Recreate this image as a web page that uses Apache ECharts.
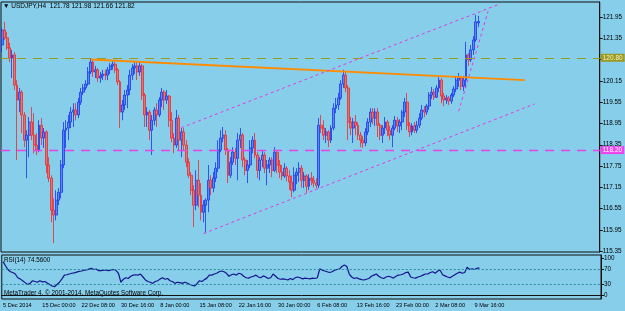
<!DOCTYPE html>
<html>
<head>
<meta charset="utf-8">
<script src="https://cdn.jsdelivr.net/npm/echarts@6/dist/echarts.min.js"></script>
<style>
html, body { margin: 0; padding: 0; background: #87ceeb; }
#main { width: 625px; height: 311px; }
</style>
</head>
<body>
<div id="main"></div>
<script>
var font = "'Liberation Sans',Arial,sans-serif";

// one label every 16 bars (each bar here = 2 x H4)
var xLabels = ['5 Dec 2014', '15 Dec 00:00', '22 Dec 08:00', '30 Dec 16:00', '8 Jan 00:00', '15 Jan 08:00',
    '22 Jan 16:00', '30 Jan 00:00', '6 Feb 08:00', '13 Feb 16:00', '23 Feb 00:00', '2 Mar 08:00', '9 Mar 16:00'];
var slotCount = 244;

var priceTicks = [115.35, 115.95, 116.55, 117.15, 117.75, 118.35, 118.95, 119.55, 120.15, 120.75, 121.35, 121.95];
var rsiTicks = [0, 30, 70, 100];
var rsiLevels = [30, 70];
var oliveLevel = 120.80;
var magentaLevel = 118.20;

// trend lines: [bar index, price]
var orangeLine = [[36, 120.75], [213, 120.17]];
var channelTop = [[73, 118.83], [203, 122.32]];
var channelBottom = [[82, 115.85], [217, 119.50]];
var steepLine = [[186, 119.29], [198, 122.11]];

// [open, close, low, high]
var ohlc = [
    [121.16,121.58,120.96,121.64],[121.58,121.36,121.30,121.81],[121.36,121.08,121.02,121.53],[121.08,120.79,120.68,121.22],
    [120.79,120.88,120.23,121.02],[120.88,120.03,119.89,120.96],[120.03,119.61,117.92,120.17],[119.61,119.83,119.27,119.95],
    [119.83,119.19,118.68,119.89],[119.19,118.48,118.28,119.27],[118.48,118.62,117.41,118.76],[118.62,118.99,118.00,119.13],
    [118.99,118.62,118.48,119.41],[118.62,118.34,118.11,119.24],[118.34,118.20,118.06,118.68],[118.20,118.90,118.14,119.04],

    [118.90,118.54,118.34,119.10],[118.54,118.71,118.26,118.82],[118.71,117.78,117.55,118.76],[117.78,117.41,117.30,118.00],
    [117.41,116.51,116.17,117.49],[116.51,116.37,115.58,116.84],[116.37,116.79,116.22,117.07],[116.79,117.01,116.65,117.13],
    [117.01,117.78,116.84,117.92],[117.78,118.76,117.69,118.99],[118.76,118.82,118.26,119.04],[118.82,118.99,118.48,119.19],
    [118.99,119.27,118.82,119.41],[119.27,119.33,118.85,119.52],[119.33,119.19,119.04,119.52],[119.19,119.55,119.10,119.67],

    [119.55,119.83,119.47,119.95],[119.83,119.95,119.75,120.06],[119.95,120.06,119.89,120.17],[120.06,120.40,120.00,120.54],
    [120.40,120.68,120.34,120.79],[120.68,120.40,120.26,120.74],[120.40,120.46,120.23,120.57],[120.46,120.23,120.12,120.51],
    [120.23,120.29,120.09,120.40],[120.29,120.34,120.17,120.46],[120.34,120.31,120.17,120.46],[120.31,120.46,120.17,120.54],
    [120.46,120.57,120.34,120.65],[120.57,120.62,120.46,120.71],[120.62,120.46,120.37,120.68],[120.46,120.12,120.03,120.51],

    [120.12,119.27,118.82,120.17],[119.27,119.47,119.04,119.61],[119.47,119.75,119.33,119.89],[119.75,119.89,119.38,120.03],
    [119.89,120.31,119.75,120.46],[120.31,120.51,120.17,120.62],[120.51,120.57,120.34,120.71],[120.57,120.40,120.17,120.68],
    [120.40,120.57,120.29,120.68],[120.57,119.75,119.61,120.62],[119.75,119.19,118.85,119.81],[119.19,119.27,118.85,119.41],
    [119.27,118.76,118.48,119.33],[118.76,119.04,118.06,119.19],[119.04,119.33,118.90,119.41],[119.33,119.19,118.85,119.52],

    [119.19,119.61,119.13,119.69],[119.61,119.83,119.41,119.95],[119.83,119.61,119.33,119.89],[119.61,119.72,119.50,119.89],
    [119.72,119.04,118.85,119.75],[119.04,118.54,118.42,119.27],[118.54,118.34,118.11,118.68],[118.34,119.10,118.26,119.33],
    [119.10,118.48,118.20,119.19],[118.48,118.71,118.00,118.82],[118.71,118.34,118.20,118.82],[118.34,117.86,117.72,118.48],
    [117.86,117.49,117.41,117.97],[117.49,117.07,116.93,117.58],[117.07,116.65,116.03,117.21],[116.65,117.35,116.51,117.63],

    [117.35,116.93,116.59,117.92],[116.93,116.45,116.22,117.27],[116.45,116.65,116.17,116.79],[116.65,116.79,115.86,116.84],
    [116.79,117.35,116.45,117.78],[117.35,117.13,116.93,117.49],[117.13,117.41,117.01,117.58],[117.41,117.69,117.30,117.86],
    [117.69,118.20,117.58,118.48],[118.20,118.54,118.14,118.76],[118.54,118.62,118.42,118.85],[118.62,118.20,118.06,118.76],
    [118.20,117.49,117.27,118.26],[117.49,117.86,117.41,118.00],[117.86,118.14,117.78,118.28],[118.14,117.97,117.78,118.26],

    [117.97,118.48,117.35,118.68],[118.48,118.62,118.26,118.82],[118.62,117.92,117.72,118.68],[117.92,117.63,117.49,118.00],
    [117.63,117.78,117.27,117.92],[117.78,118.26,117.69,118.48],[118.26,118.48,118.11,118.59],[118.48,118.06,117.97,118.68],
    [118.06,117.63,117.41,118.14],[117.63,117.92,117.35,118.00],[117.92,118.06,117.72,118.20],[118.06,117.69,117.55,118.14],
    [117.69,117.78,117.21,117.92],[117.78,117.92,117.55,118.00],[117.92,117.63,117.44,118.00],[117.63,118.14,117.58,118.28],

    [118.14,117.78,117.55,118.20],[117.78,117.58,117.41,117.92],[117.58,117.47,117.35,117.78],[117.47,117.69,117.41,117.83],
    [117.69,117.47,117.32,117.75],[117.47,117.30,117.07,117.63],[117.30,117.07,116.87,117.49],[117.07,117.49,117.01,117.72],
    [117.49,117.58,117.24,117.69],[117.58,117.69,117.30,117.86],[117.69,117.35,117.15,117.78],[117.35,117.47,117.13,117.58],
    [117.47,117.18,116.99,117.52],[117.18,117.41,117.07,117.52],[117.41,117.35,117.21,117.58],[117.35,117.27,117.15,117.47],

    [117.27,117.21,117.13,117.41],[117.21,118.90,117.13,119.10],[118.90,118.82,118.68,119.19],[118.82,118.62,118.48,119.04],
    [118.62,118.71,118.40,118.82],[118.71,118.48,118.28,118.76],[118.48,118.82,118.40,118.90],[118.82,119.38,118.76,119.52],
    [119.38,119.47,119.24,119.67],[119.47,119.67,119.33,119.81],[119.67,120.06,119.61,120.17],[120.06,120.31,119.95,120.46],
    [120.31,119.95,119.83,120.40],[119.95,118.99,118.48,120.03],[118.99,118.82,118.62,119.13],[118.82,118.99,118.40,119.10],

    [118.99,118.90,118.62,119.19],[118.90,118.62,118.48,118.99],[118.62,118.48,118.28,118.71],[118.48,118.40,118.26,118.59],
    [118.40,118.71,118.31,118.82],[118.71,118.99,118.62,119.10],[118.99,119.27,118.85,119.38],[119.27,119.10,118.93,119.38],
    [119.10,119.27,118.88,119.38],[119.27,118.90,118.57,119.38],[118.90,118.62,118.48,118.96],[118.62,118.82,118.40,118.90],
    [118.82,118.99,118.65,119.13],[118.99,118.76,118.59,119.04],[118.76,118.62,118.48,118.88],[118.62,118.82,118.28,118.90],

    [118.82,119.04,118.76,119.16],[119.04,118.88,118.71,119.13],[118.88,118.99,118.68,119.07],[118.99,119.27,118.76,119.33],
    [119.27,119.55,119.13,119.67],[119.55,118.90,118.76,119.81],[118.90,118.71,118.57,118.99],[118.71,118.88,118.62,118.96],
    [118.88,118.76,118.68,118.99],[118.76,118.90,118.68,119.02],[118.90,119.10,118.82,119.24],[119.10,119.33,119.04,119.47],
    [119.33,119.27,119.13,119.44],[119.27,119.44,119.19,119.50],[119.44,119.75,119.33,119.83],[119.75,119.83,119.64,119.98],

    [119.83,119.69,119.61,119.92],[119.69,119.95,119.67,120.03],[119.95,120.17,119.83,120.26],[120.17,119.72,119.52,120.23],
    [119.72,119.61,119.44,119.81],[119.61,119.67,119.50,119.75],[119.67,119.58,119.47,119.72],[119.58,119.75,119.50,119.81],
    [119.75,119.92,119.69,120.00],[119.92,120.17,119.83,120.26],[120.17,120.23,119.98,120.37],[120.23,120.00,119.89,120.29],
    [120.00,120.17,119.86,120.29],[120.17,120.88,119.95,121.25],[120.88,120.74,120.57,120.93],[120.74,121.02,120.68,121.16],

    [121.02,121.30,120.88,121.41],[121.30,121.81,121.25,122.01],[121.78,121.82,121.66,121.98]
];

var rsi = [
    91,80,70,64,62,58,48,45,40,35,30,33,40,38,36,40,
    37,38,34,30,26,24,30,36,45,55,56,58,60,61,63,65,
    66,68,69,71,73,70,71,67,67,68,68,67,69,70,68,60,
    36,44,48,46,52,55,56,55,58,50,42,38,36,33,38,40,
    45,48,44,46,40,38,33,36,35,33,36,34,30,28,26,32,
    40,38,43,47,55,55,58,60,64,66,64,60,52,56,58,55,
    60,58,52,48,47,50,52,55,50,48,53,50,46,48,58,52,
    46,44,45,44,42,46,43,48,50,48,45,47,46,45,47,46,
    48,72,68,66,64,62,64,68,70,71,78,82,78,58,50,46,
    48,45,43,42,44,46,52,55,58,52,48,46,50,52,50,47,
    52,55,56,58,62,63,50,48,47,50,52,55,58,58,62,64,
    60,66,68,56,53,50,48,52,56,60,63,60,62,76,70,72,
    70,73,74.56
];

var cats = [];
for (var i = 0; i < slotCount; i++) cats.push(String(i));
var showLabel = function (idx) { return idx % 16 === 0 && idx / 16 < xLabels.length; };

var last = ohlc[ohlc.length - 1];
var header = '\u25BC USDJPY,H4  ' + last[0].toFixed(2) + ' ' + last[3].toFixed(2) + ' ' +
    last[2].toFixed(2) + ' ' + last[1].toFixed(2);

function trend(data, color, width, type) {
    return {
        type: 'line', xAxisIndex: 0, yAxisIndex: 0, data: data, symbol: 'none', silent: true,
        lineStyle: { color: color, width: width, type: type }, z: 3
    };
}

var boxLabel = function (bg, fg) {
    return {
        show: true, position: 'end', distance: 1, backgroundColor: bg, color: fg,
        fontSize: 6.5, fontFamily: font, padding: [1, 2, 0, 2],
        formatter: function (p) { return p.value.toFixed(2); }
    };
};

var myChart = echarts.init(document.getElementById('main'));
var option = {
    backgroundColor: '#87ceeb',
    animation: false,
    textStyle: { fontFamily: font },
    grid: [
        { left: 1, right: 24, top: 2, height: 250, show: true, borderColor: '#111', borderWidth: 1 },
        { left: 1, right: 24, top: 255, height: 44, show: true, borderColor: '#111', borderWidth: 1 }
    ],
    xAxis: [
        { type: 'category', gridIndex: 0, data: cats, show: false },
        {
            type: 'category', gridIndex: 1, data: cats,
            axisLine: { lineStyle: { color: '#111' } },
            axisTick: { interval: showLabel, alignWithLabel: true, length: 3, lineStyle: { color: '#111' } },
            axisLabel: {
                interval: showLabel, align: 'left', margin: 3, fontSize: 5.6, color: '#000', fontFamily: font,
                formatter: function (v, idx) { return xLabels[idx / 16]; }
            }
        }
    ],
    yAxis: [
        {
            type: 'value', gridIndex: 0, position: 'right', min: 115.33, max: 122.37, scale: true,
            splitLine: { show: false },
            axisLine: { show: true, lineStyle: { color: '#111' } },
            axisTick: { show: true, length: 3, customValues: priceTicks, lineStyle: { color: '#111' } },
            axisLabel: {
                customValues: priceTicks, margin: 3, fontSize: 6.3, color: '#000', fontFamily: font,
                formatter: function (v) { return v.toFixed(2); }
            }
        },
        {
            type: 'value', gridIndex: 1, position: 'right', min: -8.8, max: 108.8,
            splitLine: { show: false },
            axisLine: { show: true, lineStyle: { color: '#111' } },
            axisTick: { show: true, length: 3, customValues: rsiTicks, lineStyle: { color: '#111' } },
            axisLabel: { customValues: rsiTicks, margin: 3, fontSize: 6.3, color: '#000', fontFamily: font }
        }
    ],
    graphic: [
        { type: 'text', left: 3, top: 3, style: { text: header, fontSize: 6.5, fontFamily: font, fill: '#000' } },
        { type: 'text', left: 4, top: 257, style: { text: 'RSI(14) ' + rsi[rsi.length - 1].toFixed(4), fontSize: 6.3, fontFamily: font, fill: '#000' } },
        { type: 'text', left: 4, top: 290, style: { text: 'MetaTrader 4, \u00A9 2001-2014, MetaQuotes Software Corp.', fontSize: 6.3, fontFamily: font, fill: '#000' } }
    ],
    series: [
        {
            name: 'USDJPY', type: 'candlestick', xAxisIndex: 0, yAxisIndex: 0,
            data: ohlc, barWidth: 2.4,
            itemStyle: {
                color: '#5a86ee', color0: '#d27a80',
                borderColor: '#1a36f0', borderColor0: '#f02828', borderWidth: 0.8
            },
            markLine: {
                silent: true, symbol: ['none', 'none'], animation: false,
                data: [
                    { yAxis: oliveLevel, lineStyle: { color: '#9c9a1e', type: [9, 7], width: 1.2 }, label: boxLabel('#9c9a1e', '#f4f2d0') },
                    { yAxis: magentaLevel, lineStyle: { color: '#e642e6', type: [9, 7], width: 1.4 }, label: boxLabel('#ee44ee', '#ffffff') },
                    { yAxis: last[1], lineStyle: { opacity: 0 }, label: boxLabel('#000000', '#ffffff') }
                ]
            },
            z: 2
        },
        trend(orangeLine, '#ff8c00', 2, 'solid'),
        trend(channelTop, '#e23be2', 1, [3, 3]),
        trend(channelBottom, '#e23be2', 1, [3, 3]),
        trend(steepLine, '#e23be2', 1, [3, 3]),
        {
            name: 'RSI', type: 'line', xAxisIndex: 1, yAxisIndex: 1, data: rsi,
            symbol: 'none', lineStyle: { color: '#14148c', width: 1.2 },
            markLine: {
                silent: true, symbol: ['none', 'none'], label: { show: false },
                lineStyle: { color: '#2a8e9c', type: [2, 2], width: 1 },
                data: rsiLevels.map(function (v) { return { yAxis: v }; })
            }
        }
    ]
};

myChart.setOption(option);
</script>
</body>
</html>
